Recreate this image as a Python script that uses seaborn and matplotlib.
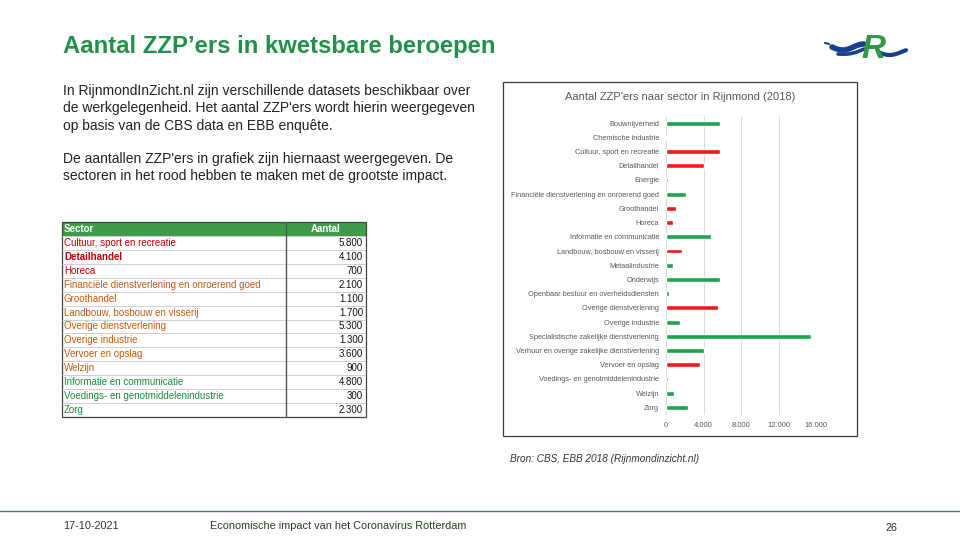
import matplotlib

matplotlib.use("Agg")
import matplotlib.pyplot as plt
import numpy as np
import pandas as pd
import seaborn as sns
from matplotlib.patches import Rectangle

# ------------------------------------------------------------
# data
# ------------------------------------------------------------
sectors = [
    "Bouwnijverheid",
    "Chemische industrie",
    "Cultuur, sport en recreatie",
    "Detailhandel",
    "Energie",
    "Financiële dienstverlening en onroerend goed",
    "Groothandel",
    "Horeca",
    "Informatie en communicatie",
    "Landbouw, bosbouw en visserij",
    "Metaalindustrie",
    "Onderwijs",
    "Openbaar bestuur en overheidsdiensten",
    "Overige dienstverlening",
    "Overige industrie",
    "Specialistische zakelijke dienstverlening",
    "Verhuur en overige zakelijke dienstverlening",
    "Vervoer en opslag",
    "Voedings- en genotmiddelenindustrie",
    "Welzijn",
    "Zorg",
]
zzp_counts = [5800, 60, 5800, 4100, 200, 2100, 1100, 700, 4800, 1700, 700,
              5800, 300, 5500, 1500, 15500, 4100, 3600, 200, 900, 2300]
high_impact = ["Cultuur, sport en recreatie", "Detailhandel", "Groothandel",
               "Horeca", "Landbouw, bosbouw en visserij",
               "Overige dienstverlening", "Vervoer en opslag"]

x_ticks = [0, 4000, 8000, 12000, 16000]
x_tick_labels = ["0", "4.000", "8.000", "12.000", "16.000"]

table_sectors = [
    "Cultuur, sport en recreatie",
    "Detailhandel",
    "Horeca",
    "Financiële dienstverlening en onroerend goed",
    "Groothandel",
    "Landbouw, bosbouw en visserij",
    "Overige dienstverlening",
    "Overige industrie",
    "Vervoer en opslag",
    "Welzijn",
    "Informatie en communicatie",
    "Voedings- en genotmiddelenindustrie",
    "Zorg",
]
table_values = ["5.800", "4.100", "700", "2.100", "1.100", "1.700", "5.300",
                "1.300", "3.600", "900", "4.800", "300", "2.300"]
table_groups = ["rood", "rood", "rood", "oranje", "oranje", "oranje", "oranje",
                "oranje", "oranje", "oranje", "groen", "groen", "groen"]

df = pd.DataFrame({"sector": sectors, "aantal": zzp_counts})
df["impact"] = np.where(df["sector"].isin(high_impact), "hoog", "overig")

GREEN = "#1ca64b"
RED = "#ee1b1b"
TITLE_GREEN = "#23904a"
GREY = "#595959"

sns.set_theme(style="white")
plt.rcParams["font.family"] = ["Liberation Sans", "DejaVu Sans"]

W, H = 960, 540
fig = plt.figure(figsize=(W / 100, H / 100), dpi=100)
fig.patch.set_facecolor("white")


def fx(px):
    return px / W


def fy(py):
    return 1 - py / H


# ------------------------------------------------------------
# slide texts
# ------------------------------------------------------------
fig.text(fx(63), fy(47), "Aantal ZZP’ers in kwetsbare beroepen", color=TITLE_GREEN,
         fontsize=17.2, fontweight="bold", va="center", ha="left")

fig.text(fx(63), fy(84),
         "In RijnmondInZicht.nl zijn verschillende datasets beschikbaar over\n"
         "de werkgelegenheid. Het aantal ZZP'ers wordt hierin weergegeven\n"
         "op basis van de CBS data en EBB enquête.",
         fontsize=10, color="#222222", va="top", ha="left", linespacing=1.3)
fig.text(fx(63), fy(152),
         "De aantallen ZZP'ers in grafiek zijn hiernaast weergegeven. De\n"
         "sectoren in het rood hebben te maken met de grootste impact.",
         fontsize=10, color="#222222", va="top", ha="left", linespacing=1.3)

fig.text(fx(605), fy(459), "Bron: CBS, EBB 2018 (Rijnmondinzicht.nl)",
         fontsize=7.2, style="italic", color="#333333", ha="center", va="center")

# footer
fig.add_artist(plt.Line2D([0, 1], [fy(511), fy(511)], color="#3f7f4a", lw=1.0,
                          transform=fig.transFigure))
fig.text(fx(63), fy(526), "17-10-2021", fontsize=7.8, color="#333333", va="center")
fig.text(fx(210), fy(526), "Economische impact van het Coronavirus Rotterdam",
         fontsize=7.8, color="#24401f", va="center")
fig.text(fx(897), fy(528), "26", fontsize=7.8, color="#333333", va="center", ha="right")

# logo (rough)
lax = fig.add_axes([fx(822), fy(64), fx(88), 32 / H])
lax.set_xlim(0, 88)
lax.set_ylim(32, 0)
lax.axis("off")
t = np.linspace(0, 1, 50)
lax.plot(10 + 32 * t, 15 + 3 * np.sin(t * np.pi * 1.5), color="#1b3f8f", lw=4,
         solid_capstyle="round")
lax.plot(16 + 26 * t, 22 - 5 * t + 2 * np.sin(t * np.pi), color="#1b3f8f", lw=2.6,
         solid_capstyle="round")
lax.plot(56 + 28 * t, 20 + 3 * np.sin(t * np.pi * 1.2), color="#1b3f8f", lw=3,
         solid_capstyle="round")
lax.plot([3, 7], [11, 12], color="#1b3f8f", lw=1.5)
lax.text(51, 18, "R", color="#2f9a44", fontsize=24, fontweight="bold",
         style="italic", ha="center", va="center")

# ------------------------------------------------------------
# table (left)
# ------------------------------------------------------------
tx0, tx1, tcol = 62, 366, 286
ty0, ty1 = 222, 417
tax = fig.add_axes([fx(tx0), fy(ty1), fx(tx1 - tx0), (ty1 - ty0) / H])
n_rows = len(table_sectors) + 1
tax.set_xlim(tx0, tx1)
tax.set_ylim(n_rows, 0)
tax.axis("off")

group_colors = {"rood": "#c00000", "oranje": "#c55a11", "groen": "#1e8a3e"}
tax.add_patch(Rectangle((tx0, 0), tx1 - tx0, 1, color="#3e9c47", lw=0))
tax.text(tx0 + 2, 0.5, "Sector", color="white", fontsize=7, fontweight="bold",
         va="center")
tax.text((tcol + tx1) / 2, 0.5, "Aantal", color="white", fontsize=7,
         fontweight="bold", va="center", ha="center")
for i, (name, val, grp) in enumerate(zip(table_sectors, table_values, table_groups), 1):
    tax.text(tx0 + 2, i + 0.5, name, color=group_colors[grp], fontsize=7,
             va="center", fontweight="bold" if name == "Detailhandel" else "normal")
    tax.text(tx1 - 3, i + 0.5, val, color="#111111", fontsize=7, va="center",
             ha="right")
    tax.axhline(i, color="#c8c8c8", lw=0.6)
tax.plot([tcol, tcol], [0, n_rows], color="#555555", lw=1.0, clip_on=False)
tax.add_patch(Rectangle((tx0, 0), tx1 - tx0, n_rows, fill=False, ec="#444444",
                        lw=0.9, clip_on=False))

# ------------------------------------------------------------
# bar chart (right)
# ------------------------------------------------------------
fig.add_artist(Rectangle((fx(503), fy(436)), fx(354), (436 - 82) / H, fill=False,
                         ec="#3a3a3a", lw=0.9, transform=fig.transFigure))
fig.text(fx(680), fy(97), "Aantal ZZP'ers naar sector in Rijnmond (2018)",
         fontsize=8, color=GREY, ha="center", va="center")

ax = fig.add_axes([fx(666), fy(414.5), fx(816 - 666), (414.5 - 116) / H])
sns.barplot(data=df, x="aantal", y="sector", hue="impact", order=sectors,
            palette={"hoog": RED, "overig": GREEN}, dodge=False, width=0.34,
            saturation=1, legend=False, ax=ax, orient="h")
ax.set_xlim(0, 16000)
ax.set_xticks(x_ticks)
ax.set_xticklabels(x_tick_labels)
ax.set_xlabel("")
ax.set_ylabel("")
for s in ax.spines.values():
    s.set_visible(False)
ax.grid(axis="x", color="#d9d9d9", lw=0.7)
ax.grid(axis="y", visible=False)
ax.set_axisbelow(True)
ax.tick_params(axis="y", length=0, pad=5, labelsize=5.3, labelcolor=GREY)
ax.tick_params(axis="x", length=0, pad=5.5, labelsize=5.5, labelcolor=GREY)
ax.set_facecolor("none")

fig.savefig("out.png", dpi=100, facecolor="white")
